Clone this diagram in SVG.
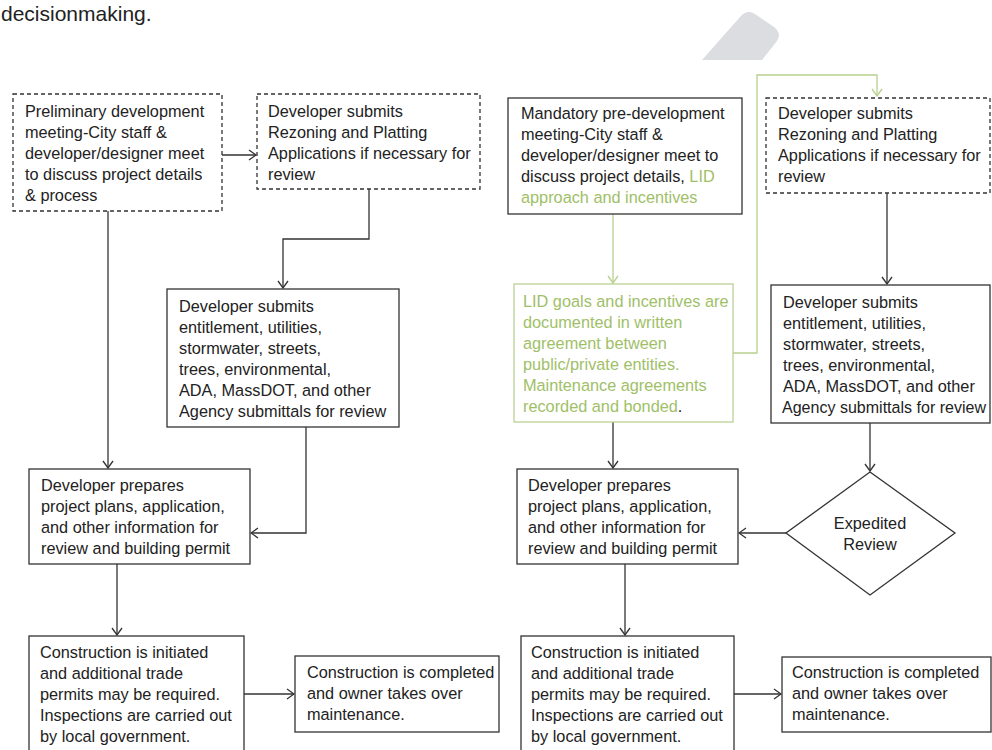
<svg xmlns="http://www.w3.org/2000/svg" width="992" height="750" viewBox="0 0 992 750">
<style>
  .t{font-family:"Liberation Sans",Arial,sans-serif;font-size:16.3px;fill:#222}
  .g{fill:#a0c068}
  .box{fill:#fff;stroke:#333;stroke-width:1.3}
  .dash{stroke-dasharray:4 3}
  .gbox{fill:#fff;stroke:#bcd196;stroke-width:1.3}
  .ln{fill:none;stroke:#333;stroke-width:1.3}
  .gln{fill:none;stroke:#b9d08f;stroke-width:1.3}
</style>
<defs>
  <marker id="ah" markerUnits="userSpaceOnUse" viewBox="-8 -6 9 12" refX="0" refY="0" markerWidth="9" markerHeight="12" orient="auto">
    <path d="M-7,-5 L0,0 L-7,5" fill="none" stroke="#333" stroke-width="1.3"/>
  </marker>
  <marker id="gah" markerUnits="userSpaceOnUse" viewBox="-8 -6 9 12" refX="0" refY="0" markerWidth="9" markerHeight="12" orient="auto">
    <path d="M-7,-5 L0,0 L-7,5" fill="none" stroke="#b9d08f" stroke-width="1.3"/>
  </marker>
</defs>
<rect width="992" height="750" fill="#fff"/>
<text x="1" y="21" style="font-family:'Liberation Sans',Arial,sans-serif;font-size:21px;fill:#222">decisionmaking.</text>
<path d="M702,60 L740,17 Q747,9 755,14 L774,27 Q782,33 777,41 L762,60 Z" fill="#dcdde0"/>

<g id="connectors">
  <path class="ln" d="M222,155 H256" marker-end="url(#ah)"/>
  <path class="ln" d="M369,189 V239 H283 V288" marker-end="url(#ah)"/>
  <path class="ln" d="M108,211 V468" marker-end="url(#ah)"/>
  <path class="ln" d="M306,427 V533 H251" marker-end="url(#ah)"/>
  <path class="ln" d="M117,564 V635" marker-end="url(#ah)"/>
  <path class="ln" d="M244,694 H294" marker-end="url(#ah)"/>
  <path class="gln" d="M613,214 V283" marker-end="url(#gah)"/>
  <path class="gln" d="M733,353 H757 V75 H877 V96" marker-end="url(#gah)"/>
  <path class="ln" d="M887,193 V284" marker-end="url(#ah)"/>
  <path class="ln" d="M870,423 V471" marker-end="url(#ah)"/>
  <path class="ln" d="M786,533 H739" marker-end="url(#ah)"/>
  <path class="ln" d="M613,422 V468" marker-end="url(#ah)"/>
  <path class="ln" d="M625,564 V635" marker-end="url(#ah)"/>
  <path class="ln" d="M734,694 H781" marker-end="url(#ah)"/>
</g>

<g id="prelim">
  <rect class="box dash" x="13" y="94" width="209" height="117"/>
  <text class="t" x="25" y="117">Preliminary development</text>
  <text class="t" x="25" y="138">meeting-City staff &amp;</text>
  <text class="t" x="25" y="159">developer/designer meet</text>
  <text class="t" x="25" y="180">to discuss project details</text>
  <text class="t" x="25" y="201">&amp; process</text>
</g>
<g id="rezoning-left">
  <rect class="box dash" x="257" y="94" width="223" height="95"/>
  <text class="t" x="268" y="117">Developer submits</text>
  <text class="t" x="268" y="138">Rezoning and Platting</text>
  <text class="t" x="268" y="159">Applications if necessary for</text>
  <text class="t" x="268" y="180">review</text>
</g>
<g id="submits-left">
  <rect class="box" x="167" y="289" width="232" height="138"/>
  <text class="t" x="179" y="312">Developer submits</text>
  <text class="t" x="179" y="333">entitlement, utilities,</text>
  <text class="t" x="179" y="354">stormwater, streets,</text>
  <text class="t" x="179" y="375">trees, environmental,</text>
  <text class="t" x="179" y="396">ADA, MassDOT, and other</text>
  <text class="t" x="179" y="417">Agency submittals for review</text>
</g>
<g id="prepares-left">
  <rect class="box" x="29" y="469" width="221" height="95"/>
  <text class="t" x="41" y="491">Developer prepares</text>
  <text class="t" x="41" y="512">project plans, application,</text>
  <text class="t" x="41" y="533">and other information for</text>
  <text class="t" x="41" y="554">review and building permit</text>
</g>
<g id="construction-left">
  <rect class="box" x="29" y="636" width="215" height="120"/>
  <text class="t" x="40" y="658">Construction is initiated</text>
  <text class="t" x="40" y="679">and additional trade</text>
  <text class="t" x="40" y="700">permits may be required.</text>
  <text class="t" x="40" y="721">Inspections are carried out</text>
  <text class="t" x="40" y="742">by local government.</text>
</g>
<g id="completed-left">
  <rect class="box" x="295" y="656" width="204" height="76"/>
  <text class="t" x="307" y="678">Construction is completed</text>
  <text class="t" x="307" y="699">and owner takes over</text>
  <text class="t" x="307" y="720">maintenance.</text>
</g>

<g id="mandatory">
  <rect class="box" x="508" y="98" width="234" height="116"/>
  <text class="t" x="521" y="119">Mandatory pre-development</text>
  <text class="t" x="521" y="140">meeting-City staff &amp;</text>
  <text class="t" x="521" y="161">developer/designer meet to</text>
  <text class="t" x="521" y="182">discuss project details, <tspan class="g">LID</tspan></text>
  <text class="t g" x="521" y="203">approach and incentives</text>
</g>
<g id="lid-goals">
  <rect class="gbox" x="514" y="284" width="219" height="138"/>
  <text class="t g" x="523" y="307">LID goals and incentives are</text>
  <text class="t g" x="523" y="328">documented in written</text>
  <text class="t g" x="523" y="349">agreement between</text>
  <text class="t g" x="523" y="370">public/private entities.</text>
  <text class="t g" x="523" y="391">Maintenance agreements</text>
  <text class="t" x="523" y="412"><tspan class="g">recorded and bonded</tspan>.</text>
</g>
<g id="rezoning-right">
  <rect class="box dash" x="766" y="98" width="224" height="95"/>
  <text class="t" x="778" y="119">Developer submits</text>
  <text class="t" x="778" y="140">Rezoning and Platting</text>
  <text class="t" x="778" y="161">Applications if necessary for</text>
  <text class="t" x="778" y="182">review</text>
</g>
<g id="submits-right">
  <rect class="box" x="771" y="285" width="219" height="138"/>
  <text class="t" x="783" y="308">Developer submits</text>
  <text class="t" x="783" y="329">entitlement, utilities,</text>
  <text class="t" x="783" y="350">stormwater, streets,</text>
  <text class="t" x="783" y="371">trees, environmental,</text>
  <text class="t" x="783" y="392">ADA, MassDOT, and other</text>
  <text class="t" x="782" y="413" textLength="204" lengthAdjust="spacingAndGlyphs">Agency submittals for review</text>
</g>
<g id="expedited">
  <polygon class="box" points="870,472 955,533 870,595 786,533"/>
  <text class="t" x="870" y="529" text-anchor="middle">Expedited</text>
  <text class="t" x="870" y="550" text-anchor="middle">Review</text>
</g>
<g id="prepares-right">
  <rect class="box" x="517" y="469" width="221" height="95"/>
  <text class="t" x="528" y="491">Developer prepares</text>
  <text class="t" x="528" y="512">project plans, application,</text>
  <text class="t" x="528" y="533">and other information for</text>
  <text class="t" x="528" y="554">review and building permit</text>
</g>
<g id="construction-right">
  <rect class="box" x="521" y="636" width="213" height="120"/>
  <text class="t" x="531" y="658">Construction is initiated</text>
  <text class="t" x="531" y="679">and additional trade</text>
  <text class="t" x="531" y="700">permits may be required.</text>
  <text class="t" x="531" y="721">Inspections are carried out</text>
  <text class="t" x="531" y="742">by local government.</text>
</g>
<g id="completed-right">
  <rect class="box" x="782" y="657" width="209" height="75"/>
  <text class="t" x="792" y="678">Construction is completed</text>
  <text class="t" x="792" y="699">and owner takes over</text>
  <text class="t" x="792" y="720">maintenance.</text>
</g>
</svg>
